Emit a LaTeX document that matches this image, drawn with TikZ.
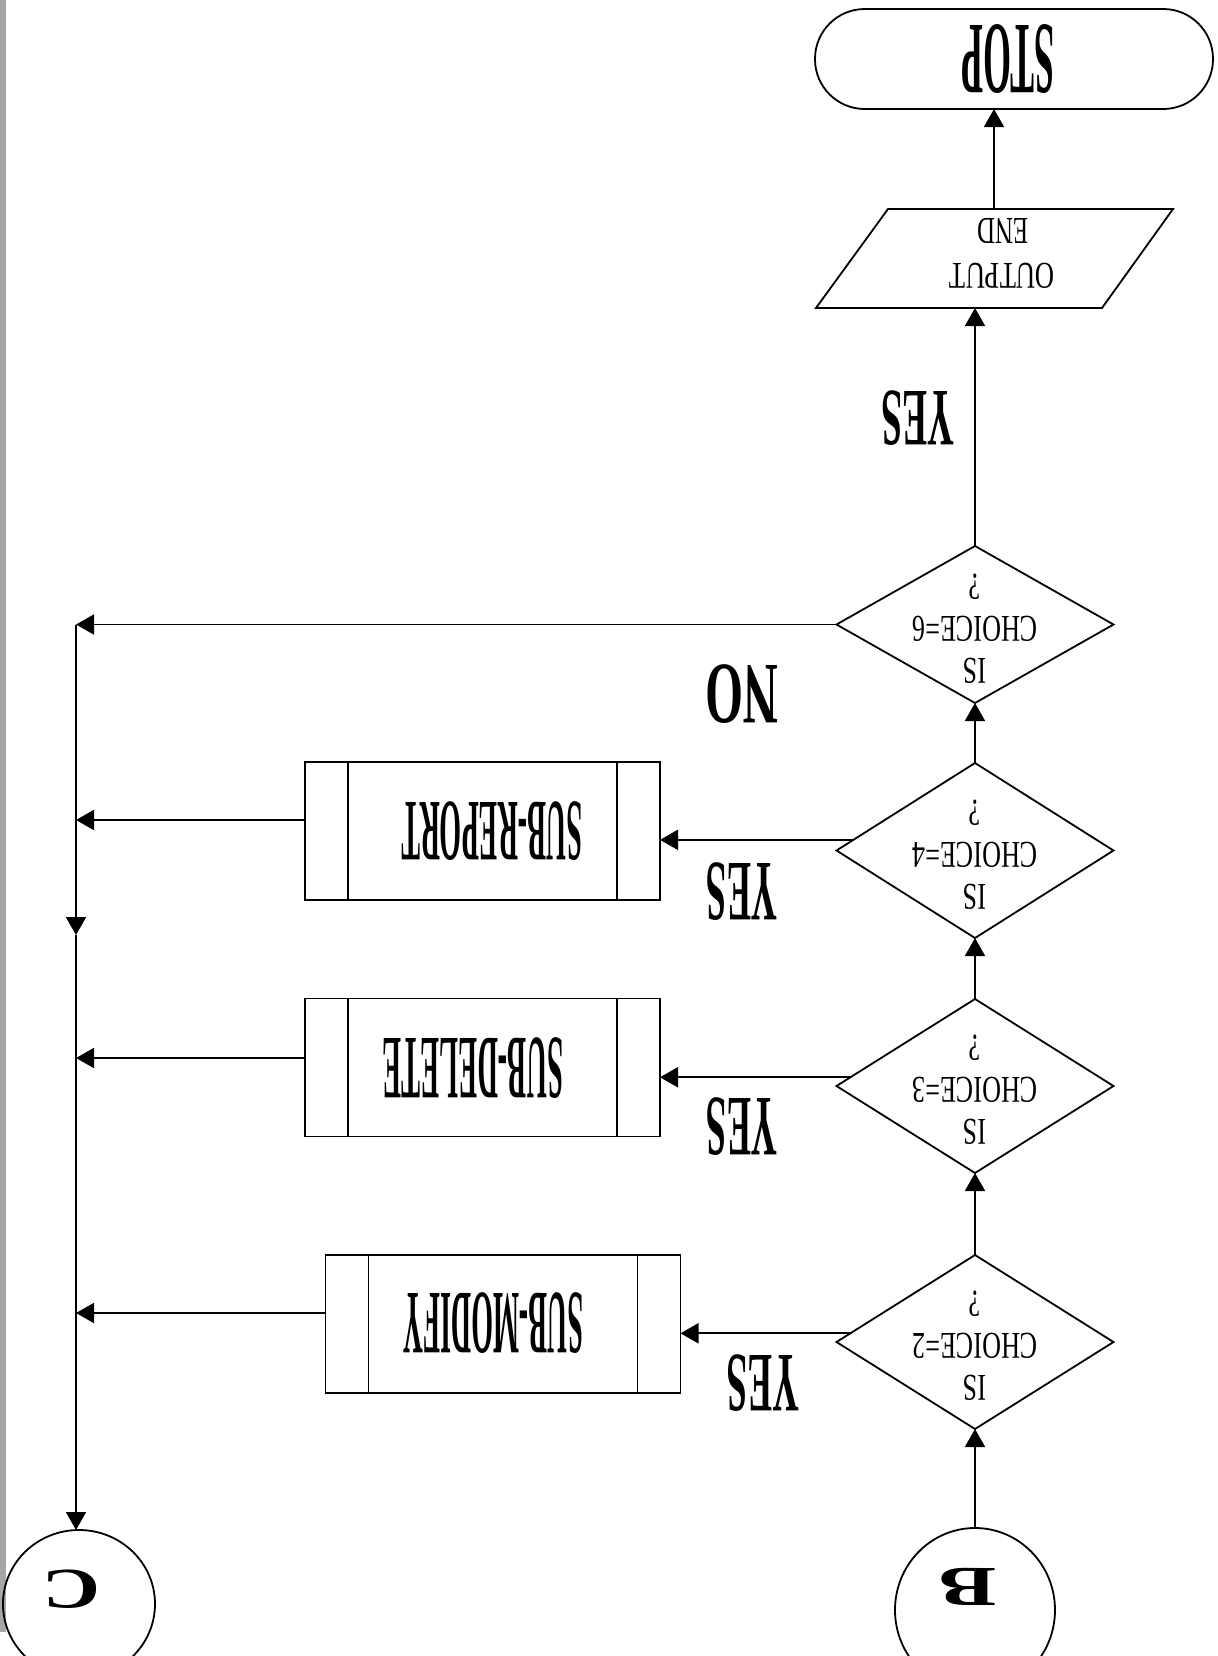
\documentclass[tikz,border=0pt]{standalone}
\usepackage{graphicx}
\usepackage{fontspec}
\setmainfont{Liberation Serif}
\usetikzlibrary{arrows.meta,shapes.geometric}
\newcommand\flipbox[3]{\rotatebox[origin=c]{180}{\resizebox{#1}{#2}{#3}}}
\newcommand\dtxt[1]{\rotatebox[origin=c]{180}{\scalebox{0.69}[1]{\fontsize{18.9pt}{21pt}\selectfont\begin{tabular}{@{}c@{}}IS\\CHOICE=#1\\?\end{tabular}}}}
\begin{document}
\begin{tikzpicture}[x=0.5pt,y=-0.5pt,
  line width=0.9pt,
  arr/.style={-{Triangle[length=9pt,width=10pt]}},
  dia/.style={draw,shape=diamond,minimum width=138.5pt,minimum height=87pt,inner sep=0pt,outer sep=0pt},
  proc/.style={draw,rectangle,minimum width=177.5pt,minimum height=69pt,inner sep=0pt,outer sep=0pt},
  lbl/.style={inner sep=0pt,outer sep=0pt}]
\useasboundingbox (0,0) rectangle (1218,1656);
\fill[white] (0,0) rectangle (1218,1656);
\fill[black!35] (0,0) rectangle (6,1632);

% terminal and output
\node[draw,rectangle,rounded corners=24.9pt,minimum width=199pt,minimum height=50pt,inner sep=0pt,outer sep=0pt] (stop) at (1014,59) {};
\node[lbl] (stopt) at (1008,59) {\flipbox{46.5pt}{34pt}{\bfseries STOP}};
\coordinate (oTL) at (888,209);
\coordinate (oTR) at (1173,209);
\coordinate (oBR) at (1102,308);
\coordinate (oBL) at (816,308);
\draw (oTL) -- (oTR) -- (oBR) -- (oBL) -- cycle;
\coordinate (outN) at (994,209);
\coordinate (outS) at (975,308);
\node[lbl] (outt1) at (1002,276) {\flipbox{52.5pt}{12.5pt}{OUTPUT}};
\node[lbl] (outt2) at (1003,231) {\flipbox{25.5pt}{12.5pt}{END}};

% decisions
\node[dia,minimum height=78.5pt] (d6) at (975,624.5) {};
\node[dia,minimum height=87.5pt] (d4) at (975,850.5) {};
\node[dia] (d3) at (975,1086) {};
\node[dia] (d2) at (975,1342) {};
\node[lbl] (t6) at (d6) {\dtxt{6}};
\node[lbl] (t4) at (d4) {\dtxt{4}};
\node[lbl] (t3) at (d3) {\dtxt{3}};
\node[lbl] (t2) at (d2) {\dtxt{2}};

% labels
\node[lbl] (y6) at (918,418) {\flipbox{36.5pt}{27pt}{\bfseries YES}};
\node[lbl] (no) at (742,694) {\flipbox{36.5pt}{29pt}{\bfseries NO}};
\node[lbl] (y4) at (742,892) {\flipbox{35.5pt}{28.5pt}{\bfseries YES}};
\node[lbl] (y3) at (742,1127) {\flipbox{35.5pt}{28.5pt}{\bfseries YES}};
\node[lbl] (y2) at (763,1383) {\flipbox{36pt}{28pt}{\bfseries YES}};

% processes
\node[proc] (rep) at (482.5,831) {};
\node[proc] (del) at (482.5,1067.5) {};
\node[proc] (mod) at (503,1324) {};
\foreach \n in {rep,del,mod}{
  \draw ([xshift=21.5pt]\n.north west) -- ([xshift=21.5pt]\n.south west);
  \draw ([xshift=-21.5pt]\n.north east) -- ([xshift=-21.5pt]\n.south east);
}
\node[lbl] (rept) at (492,831) {\flipbox{90pt}{29pt}{\bfseries SUB-REPORT}};
\node[lbl] (delt) at (473,1068) {\flipbox{90pt}{30pt}{\bfseries SUB-DELETE}};
\node[lbl] (modt) at (493,1323) {\flipbox{90pt}{30pt}{\bfseries SUB-MODIFY}};

% connectors
\node[draw,ellipse,minimum width=80pt,minimum height=82pt,inner sep=0pt,outer sep=0pt] (B) at (975,1610) {};
\node[lbl] (Bt) at (968,1587) {\flipbox{28.5pt}{18.5pt}{\bfseries B}};
\node[draw,ellipse,minimum width=76pt,minimum height=74pt,inner sep=0pt,outer sep=0pt] (C) at (79,1604) {};
\node[lbl] (Ct) at (71,1589) {\flipbox{29pt}{19pt}{\bfseries C}};

\coordinate (ctop) at (76,624.5);
\coordinate (cmid) at (76,935);
\coordinate (rl) at ([yshift=5.5pt]rep.west);
\coordinate (dl) at ([yshift=4.75pt]del.west);
\coordinate (ml) at ([yshift=5.5pt]mod.west);

% flow
\draw[arr] (B.north) -- (d2.south);
\draw[arr] (d2.north) -- (d3.south);
\draw[arr] (d3.north) -- (d4.south);
\draw[arr] (d4.north) -- (d6.south);
\draw[arr] (d6.north) -- (outS);
\draw[arr] (outN) -- (outN |- stop.south);
\draw[arr] (d6.west) -- (ctop);
\draw[arr] (d4.175) -- (d4.175 -| rep.east);
\draw[arr] (d3.176) -- (d3.176 -| del.east);
\draw[arr] (d2.176) -- (d2.176 -| mod.east);
\draw[arr] (rl) -- (rl -| ctop);
\draw[arr] (dl) -- (dl -| ctop);
\draw[arr] (ml) -- (ml -| ctop);
\draw[arr] (ctop) -- (cmid);
\draw[arr] (cmid) -- (cmid |- C.north);
\end{tikzpicture}
\end{document}
